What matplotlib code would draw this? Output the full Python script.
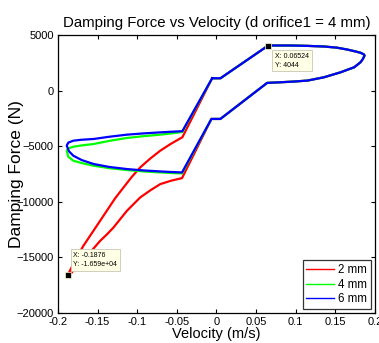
import matplotlib
matplotlib.use('Agg')
import matplotlib.pyplot as plt

plt.rcParams['font.family'] = ['Liberation Sans', 'DejaVu Sans']

# right-hand part of the loop, common to all three orifices (drawn under blue)
right_v = [-0.0054, 0.0051, 0.06524, 0.0705, 0.094, 0.115, 0.136, 0.152, 0.165, 0.175, 0.182, 0.186, 0.187,
           0.185, 0.182, 0.174, 0.157, 0.136, 0.115, 0.095, 0.081, 0.064, 0.005, -0.0063]
right_f = [1108, 1108, 4044, 4054, 4054, 4020, 3964, 3860, 3694, 3530, 3400, 3260, 3150,
           2850, 2550, 2100, 1650, 1200, 900, 800, 750, 690, -2550, -2550]

# left-hand part for each orifice size (lower knee -> lower arc -> tip -> upper arc -> upper knee)
red_v = [-0.0434, -0.057, -0.0709, -0.083, -0.0962, -0.113, -0.130, -0.1385, -0.1468, -0.160,
         -0.175, -0.1827, -0.1876,
         -0.178, -0.168, -0.1553, -0.1384, -0.128, -0.1173, -0.1068, -0.0962, -0.0835, -0.0709,
         -0.058, -0.0456, -0.043]
red_f = [-7870, -8100, -8410, -8950, -9610, -10812, -12317, -12950, -13515, -14600,
         -15700, -16370, -16590,
         -15200, -13966, -12614, -10812, -9700, -8713, -7760, -6910, -6110, -5406,
         -4810, -4300, -4200]

green_v = [-0.0434, -0.057, -0.0709, -0.092, -0.113, -0.135, -0.155, -0.170, -0.1806, -0.187, -0.189,
           -0.187, -0.1806, -0.170, -0.155, -0.135, -0.113, -0.092, -0.0709, -0.057, -0.043]
green_f = [-7450, -7410, -7360, -7270, -7145, -6980, -6757, -6520, -6307, -5950, -5406,
           -5200, -5050, -4930, -4805, -4520, -4262, -4100, -3964, -3850, -3720]

blue_v = [-0.0434, -0.057, -0.0709, -0.092, -0.113, -0.135, -0.155, -0.170, -0.1806, -0.186, -0.189,
          -0.187, -0.1806, -0.170, -0.155, -0.135, -0.113, -0.092, -0.0709, -0.057, -0.043]
blue_f = [-7360, -7320, -7270, -7180, -7055, -6870, -6604, -6250, -5857, -5470, -4955,
          -4680, -4505, -4420, -4352, -4150, -3964, -3850, -3757, -3700, -3650]

labels = ['2 mm', '4 mm', '6 mm']
colors = ['#ff0000', '#00ff00', '#0000ff']

# data tips
tip_v = [0.06524, -0.1876]
tip_f = [4044, -16590]
tip_text = ['X: 0.06524\nY: 4044', 'X: -0.1876\nY: -1.659e+04']

xticks = [-0.2, -0.15, -0.1, -0.05, 0, 0.05, 0.1, 0.15, 0.2]
xticklabels = ['-0.2', '-0.15', '-0.1', '-0.05', '0', '0.05', '0.1', '0.15', '0.2']
yticks = [-20000, -15000, -10000, -5000, 0, 5000]


def loop(left_v, left_f):
    v = right_v + left_v + [right_v[0]]
    f = right_f + left_f + [right_f[0]]
    return v, f


fig = plt.figure(figsize=(3.79, 3.43), dpi=100)
ax = fig.add_axes([0.153, 0.0875, 0.836, 0.8105])

for (lv, lf), lab, c in zip([(red_v, red_f), (green_v, green_f), (blue_v, blue_f)], labels, colors):
    v, f = loop(lv, lf)
    ax.plot(v, f, color=c, lw=1.6, label=lab, solid_joinstyle='round')

ax.plot(tip_v, tip_f, 's', color='black', ms=4.3, markeredgecolor='#ffffcc', markeredgewidth=0.5, zorder=5)

box = dict(boxstyle='square,pad=0.4', fc='#ffffe6', ec='#c8c8b4', lw=0.6)
ax.annotate(tip_text[0], (tip_v[0], tip_f[0]), xytext=(5, -5), textcoords='offset points',
            ha='left', va='top', fontsize=5, linespacing=1.4, bbox=box, zorder=6)
ax.annotate(tip_text[1], (tip_v[1], tip_f[1]), xytext=(4, 5), textcoords='offset points',
            ha='left', va='bottom', fontsize=5, linespacing=1.5, bbox=box, zorder=6)

ax.set_xlim(-0.2, 0.2)
ax.set_ylim(-20000, 5000)
ax.set_xticks(xticks)
ax.set_xticklabels(xticklabels)
ax.set_yticks(yticks)
ax.tick_params(direction='in', top=True, right=True, length=3, width=0.8, labelsize=8, pad=3)
for s in ax.spines.values():
    s.set_linewidth(0.9)

ax.set_title('Damping Force vs Velocity (d orifice1 = 4 mm)', fontsize=10.8, pad=6)
ax.set_xlabel('Velocity (m/s)', fontsize=10.5, labelpad=0)
ax.set_ylabel('Damping Force (N)', fontsize=12.5)
ax.yaxis.set_label_coords(-0.107, 0.5)

leg = ax.legend(loc='lower right', fontsize=8.3, frameon=True, fancybox=False, edgecolor='black',
                handlelength=2.4, borderpad=0.3, labelspacing=0.25, handletextpad=0.4,
                borderaxespad=0.35)
leg.get_frame().set_linewidth(0.9)
for l in leg.get_lines():
    l.set_linewidth(1.0)

fig.savefig('out.png', dpi=100)
